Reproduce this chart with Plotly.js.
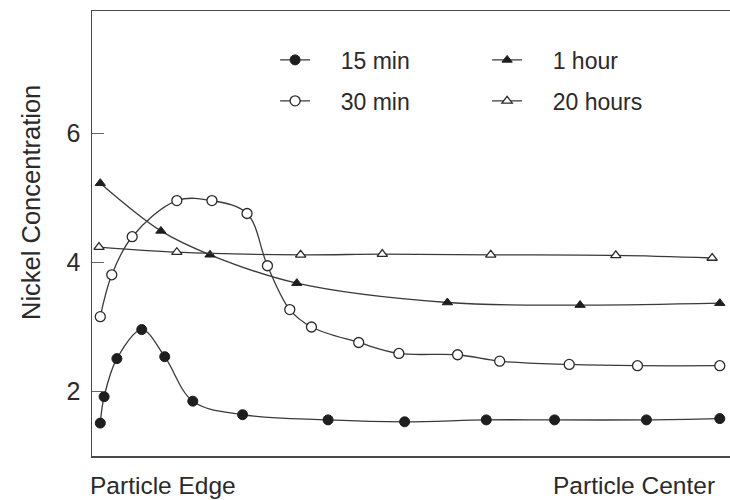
<!DOCTYPE html>
<html>
<head>
<meta charset="utf-8">
<script src="https://cdn.plot.ly/plotly-3.0.1.min.js"></script>
<style>html,body{margin:0;padding:0;background:#fff;}#chart{width:730px;height:500px;}</style>
</head>
<body>
<div id="chart"></div>
<script>
// Relative radial position (0 = particle edge, 1 = particle center)
const pos15min = [0.013, 0.019, 0.039, 0.078, 0.114, 0.158, 0.236, 0.370, 0.490, 0.618, 0.725, 0.869, 0.984];
const conc15min = [1.51, 1.92, 2.51, 2.96, 2.54, 1.85, 1.64, 1.56, 1.53, 1.56, 1.56, 1.56, 1.58];

const pos30min = [0.013, 0.031, 0.063, 0.133, 0.188, 0.243, 0.275, 0.310, 0.344, 0.418, 0.481, 0.573, 0.639, 0.748, 0.855, 0.984];
const conc30min = [3.16, 3.81, 4.40, 4.96, 4.96, 4.76, 3.95, 3.27, 3.00, 2.76, 2.59, 2.57, 2.47, 2.42, 2.40, 2.40];

const pos1hour = [0.013, 0.108, 0.185, 0.321, 0.557, 0.765, 0.984];
const conc1hour = [5.23, 4.49, 4.12, 3.68, 3.38, 3.34, 3.37];

const pos20hours = [0.011, 0.133, 0.327, 0.455, 0.625, 0.821, 0.972];
const conc20hours = [4.24, 4.16, 4.12, 4.13, 4.12, 4.11, 4.07];

const seriesNames = ['15 min', '1 hour', '30 min', '20 hours'];
const yTicks = [2, 4, 6];
const xLabels = ['Particle Edge', 'Particle Center'];
const yTitle = 'Nickel Concentration';

const NB = '\u00A0';
const lineStyle = {color: '#3a3a3a', width: 1.3, shape: 'spline', smoothing: 1};
const FONT = 'Liberation Sans, Arial, sans-serif';
const TXT = '#2a2a2a';

const traces = [
  {x: pos15min, y: conc15min, name: NB.repeat(4) + seriesNames[0], legend: 'legend', mode: 'lines+markers', line: lineStyle,
   marker: {symbol: 'circle', size: 10, color: '#1e1e1e', line: {color: '#1e1e1e', width: 1}}},
  {x: pos1hour, y: conc1hour, name: NB.repeat(4) + seriesNames[1], legend: 'legend', mode: 'lines+markers', line: lineStyle,
   marker: {symbol: 'triangle-up', size: 9, color: '#1e1e1e', line: {color: '#1e1e1e', width: 1}}},
  {x: pos30min, y: conc30min, name: NB.repeat(4) + seriesNames[2], legend: 'legend2', mode: 'lines+markers', line: lineStyle,
   marker: {symbol: 'circle', size: 10, color: '#ffffff', line: {color: '#2a2a2a', width: 1.3}}},
  {x: pos20hours, y: conc20hours, name: NB.repeat(4) + seriesNames[3], legend: 'legend2', mode: 'lines+markers', line: lineStyle,
   marker: {symbol: 'triangle-up', size: 9, color: '#ffffff', line: {color: '#2a2a2a', width: 1.3}}}
];

const legendCommon = {orientation: 'h', xanchor: 'left', yanchor: 'middle', entrywidth: 167, entrywidthmode: 'pixels',
  font: {family: FONT, size: 23, color: TXT}, bgcolor: 'rgba(0,0,0,0)', traceorder: 'normal'};

const layout = {
  width: 730, height: 500,
  margin: {l: 92, r: 0, t: 11, b: 44},
  paper_bgcolor: '#ffffff', plot_bgcolor: '#ffffff',
  font: {family: FONT, size: 22, color: TXT},
  showlegend: true,
  legend: Object.assign({x: 0.287, y: 0.890}, legendCommon),
  legend2: Object.assign({x: 0.287, y: 0.798}, legendCommon),
  xaxis: {range: [0, 1], showgrid: false, zeroline: false, showline: true, mirror: true,
    linecolor: '#4a4a4a', linewidth: 1.5, showticklabels: false, ticks: '', fixedrange: true},
  yaxis: {range: [1, 7.9], showgrid: false, zeroline: false, showline: true, mirror: false,
    linecolor: '#4a4a4a', linewidth: 1.5, tickvals: yTicks, ticktext: yTicks.map(String),
    ticks: 'inside', ticklen: 12, tickcolor: '#666', tickwidth: 1, ticklabelstandoff: 5,
    tickfont: {family: FONT, size: 25, color: TXT}, fixedrange: true},
  annotations: [
    {text: xLabels[0], xref: 'paper', yref: 'paper', x: (163 - 92) / 638, y: -(485 - 456) / 445,
     xanchor: 'center', yanchor: 'middle', showarrow: false, font: {family: FONT, size: 24.5, color: TXT}},
    {text: xLabels[1], xref: 'paper', yref: 'paper', x: (634 - 92) / 638, y: -(485 - 456) / 445,
     xanchor: 'center', yanchor: 'middle', showarrow: false, font: {family: FONT, size: 24.5, color: TXT}},
    {text: yTitle, xref: 'paper', yref: 'paper', x: (31 - 92) / 638, y: (456 - 203) / 445, textangle: -90,
     xanchor: 'center', yanchor: 'middle', showarrow: false, font: {family: FONT, size: 25.5, color: TXT}}
  ]
};

Plotly.newPlot('chart', traces, layout, {staticPlot: true, displayModeBar: false});
</script>
</body>
</html>
